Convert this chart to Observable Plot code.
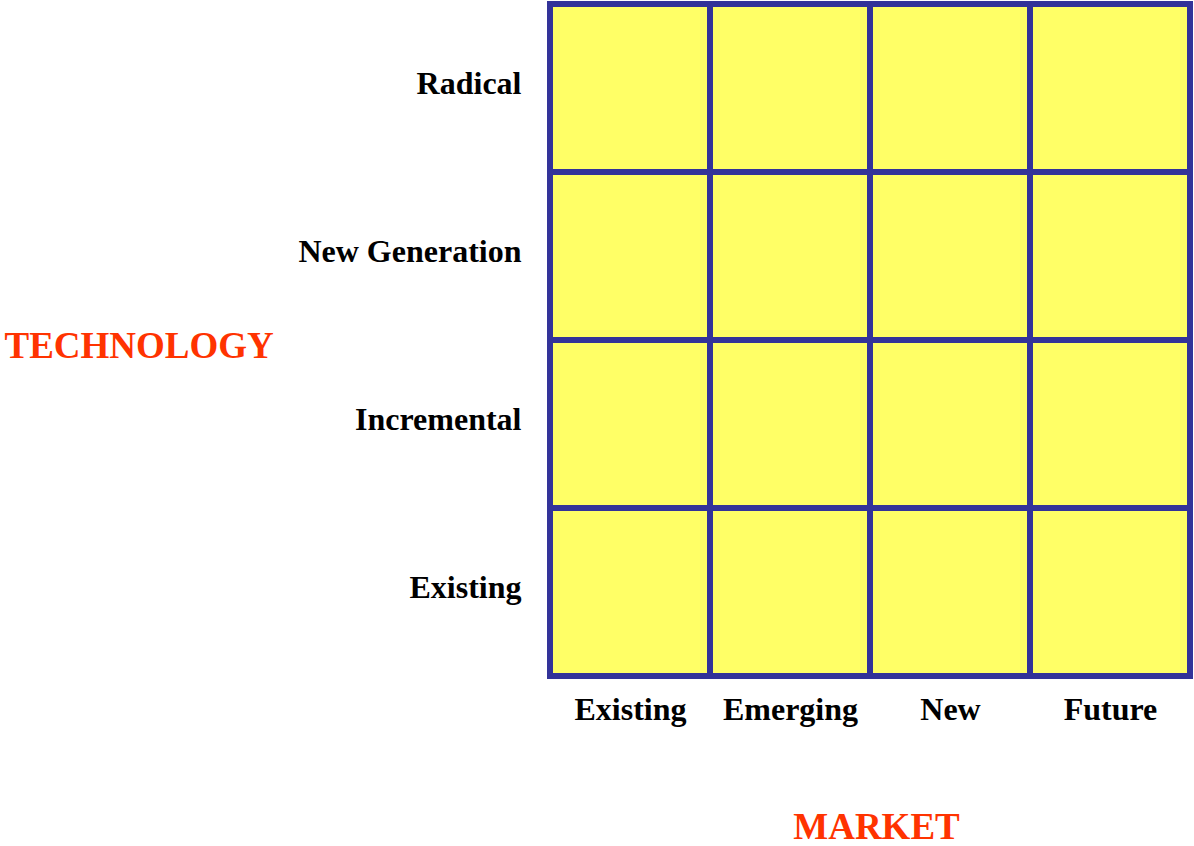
<!DOCTYPE html>
<html>
<head>
<meta charset="utf-8">
<script src="https://cdn.jsdelivr.net/npm/d3@7"></script>
<script src="https://cdn.jsdelivr.net/npm/@observablehq/plot@0.6"></script>
<style>
  html, body { margin: 0; padding: 0; background: #ffffff; }
  #chart svg { display: block; }
</style>
</head>
<body>
<div id="chart"></div>
<script>
// Categories
const markets = ["Existing", "Emerging", "New", "Future"];
const technologies = ["Radical", "New Generation", "Incremental", "Existing"];
const xTitle = "MARKET";
const yTitle = "TECHNOLOGY";

// Build grid cells from the categories
const cells = [];
for (const t of technologies) for (const m of markets) cells.push({market: m, technology: t});

const font = "'Liberation Serif', 'Times New Roman', Times, serif";

const chart = Plot.plot({
  width: 1194,
  height: 846,
  marginLeft: 550,
  marginRight: 4,
  marginTop: 2.5,
  marginBottom: 168.5,
  style: {fontFamily: font, background: "#ffffff"},
  x: {domain: markets, padding: 0, axis: null},
  y: {domain: technologies, padding: 0, axis: null},
  marks: [
    Plot.cell(cells, {x: "market", y: "technology", fill: "#FFFF66", stroke: "#333399", strokeWidth: 6}),
    Plot.axisY({tickSize: 0, tickPadding: 29, fontSize: 32, fontWeight: "bold", fill: "#000", label: null, dy: -5}),
    Plot.axisX({tickSize: 0, tickPadding: 19, fontSize: 32, fontWeight: "bold", fill: "#000", label: null}),
    Plot.text([yTitle], {frameAnchor: "left", textAnchor: "start", dx: -546, dy: 6, fontSize: 37, fontWeight: "bold", fill: "#FF3300"}),
    Plot.text([xTitle], {frameAnchor: "bottom", dx: 6, dy: 161, fontSize: 37, fontWeight: "bold", fill: "#FF3300"})
  ]
});
document.getElementById("chart").appendChild(chart);
</script>
</body>
</html>
